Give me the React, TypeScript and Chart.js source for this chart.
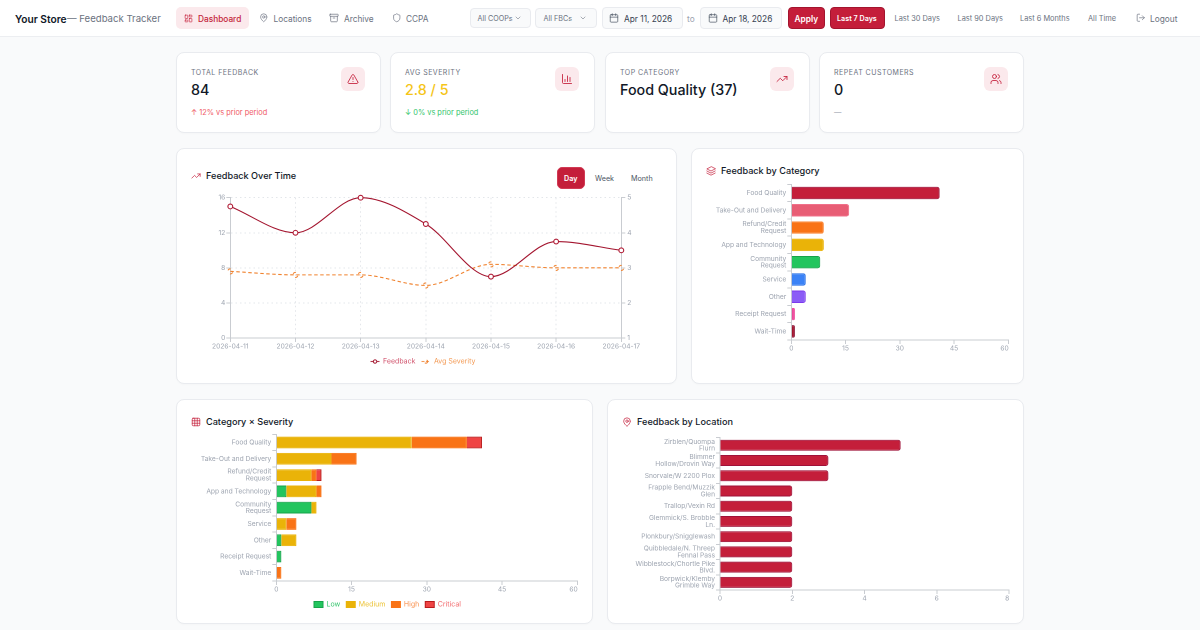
import React, { useEffect, useRef } from "react";
import { Chart, registerables } from "chart.js";

Chart.register(...registerables);

const FONT = "Inter";
const CRIMSON = "#c41e3a";
const TICK = "#9ca3af";
const AXIS = "#c9ccd1";
const TICK_SIZE = 6.67;

const days = ["2026-04-11", "2026-04-12", "2026-04-13", "2026-04-14", "2026-04-15", "2026-04-16", "2026-04-17"];
const feedbackSeries = [15, 12, 16, 13, 7, 11, 10];
const severitySeries = [2.9, 2.8, 2.8, 2.5, 3.1, 3, 3];

const categories = [
  "Food Quality", "Take-Out and Delivery", ["Refund/Credit", "Request"], "App and Technology",
  ["Community", "Request"], "Service", "Other", "Receipt Request", "Wait-Time",
];
const categoryTotals = [41, 16, 9, 9, 8, 4, 4, 1, 1];
const categoryColors = ["#c41e3a", "#e85d75", "#f97316", "#eab308", "#22c55e", "#3b82f6", "#8b5cf6", "#ec4899", "#a3142e"];
const categoryBorders = ["#9f1239", "#f0708a", "#fb8a3c", "#eab308", "#16a34a", "#2f74e6", "#7c3aed", "#ec4899", "#881337"];

const lowSeries = [0, 0, 0, 2, 7, 0, 1, 1, 0];
const mediumSeries = [27, 11, 7, 6, 1, 2, 3, 0, 0];
const highSeries = [11, 5, 1, 1, 0, 2, 0, 0, 1];
const criticalSeries = [3, 0, 1, 0, 0, 0, 0, 0, 0];

const locations = [
  ["Zirblen/Quompa", "Flurn"], ["Blimmer", "Hollow/Drovin Way"], "Snorvale/W 2200 Plox", ["Frapple Bend/Muzzik", "Glen"],
  "Trallop/Vexin Rd", ["Glemmick/S. Brobble", "Ln."], "Plonkbury/Snigglewash", ["Quibbledale/N. Threep", "Fennal Pass"],
  ["Wibblestock/Chortle Pike", "Blvd."], ["Borpwick/Klemby", "Grimble Way"],
];
const locationTotals = [5, 3, 3, 2, 2, 2, 2, 2, 2, 2];

// Marker bitmaps drawn at 3x and reported at 1x, so they stay crisp on the 2x chart canvas.
function markerImage(color: string, dashed: boolean, withLine: boolean) {
  const w = withLine ? 9 : 8;
  const h = 8;
  const k = 3;
  const c = document.createElement("canvas");
  c.width = w * k;
  c.height = h * k;
  const g = c.getContext("2d")!;
  g.scale(k, k);
  g.strokeStyle = color;
  g.lineWidth = 0.9;
  if (withLine) {
    g.beginPath();
    if (dashed) g.setLineDash([3, 1.5]);
    g.moveTo(0, 4);
    g.lineTo(w, 4);
    g.stroke();
    g.setLineDash([]);
  }
  const cx = w / 2;
  if (!dashed) {
    g.fillStyle = "#fff";
    g.beginPath();
    g.arc(cx, 4, 1.7, 0, Math.PI * 2);
    g.fill();
  }
  g.lineWidth = 1;
  if (dashed) g.setLineDash([3.2, 4.6]);
  g.beginPath();
  g.arc(cx, 4, withLine ? 1.7 : 2.5, 0.4, Math.PI * 2 + 0.4);
  g.stroke();
  Object.defineProperty(c, "width", { get: () => w });
  Object.defineProperty(c, "height", { get: () => h });
  return c;
}

function axisCommon(afterFit: (s: any) => void) {
  return { afterFit, border: { color: AXIS, width: 1 } };
}

function tickFont() {
  return { family: FONT, size: TICK_SIZE, lineHeight: 1 };
}

function useChart(build: () => any) {
  const ref = useRef<HTMLCanvasElement>(null);
  useEffect(() => {
    const chart = new Chart(ref.current!, build());
    return () => chart.destroy();
  }, []);
  return ref;
}

function lastShift(max: number) {
  return (v: any) => (Number(v) === max ? `${v}${"  ".repeat(String(v).length)}` : `${v}`);
}

function barOptions(leftPad: number, leftW: number, bottomH: number, top: number, right: number, max: number, step: number, stacked: boolean, legend: any) {
  return {
    indexAxis: "y",
    responsive: false,
    animation: false,
    devicePixelRatio: 2,
    layout: { padding: { top, right, left: leftPad, bottom: 0 } },
    plugins: { legend, tooltip: { enabled: false } },
    scales: {
      x: {
        ...axisCommon((s: any) => { s.height = bottomH; }),
        stacked, min: 0, max,
        grid: { drawOnChartArea: false, tickLength: 4, color: AXIS },
        ticks: { stepSize: step, color: TICK, font: tickFont(), padding: 1, maxRotation: 0, callback: lastShift(max) },
      },
      y: {
        ...axisCommon((s: any) => { s.width = leftW; }),
        stacked,
        grid: { drawOnChartArea: false, tickLength: 4, color: AXIS },
        ticks: { color: TICK, font: tickFont(), padding: 1, autoSkip: false },
      },
    },
  };
}

function LineChart() {
  const ref = useChart(() => ({
    type: "line",
    data: {
      labels: days,
      datasets: [
        {
          label: "Feedback", data: feedbackSeries, yAxisID: "y", borderColor: "#a3142e", borderWidth: 1.1,
          cubicInterpolationMode: "monotone", clip: false,
          pointRadius: 2.4, pointBorderWidth: 1.1, pointBackgroundColor: "#fff", pointBorderColor: "#b01a34",
        },
        {
          label: "Avg Severity", data: severitySeries, yAxisID: "y1", borderColor: "#f0822e", borderWidth: 1.1,
          borderDash: [3.5, 2.5], cubicInterpolationMode: "monotone", pointStyle: markerImage("#f0822e", true, false),
        },
      ],
    },
    options: {
      responsive: false,
      animation: false,
      devicePixelRatio: 2,
      layout: { padding: { top: 7.7, right: 0, left: 0, bottom: 0 } },
      plugins: {
        tooltip: { enabled: false },
        legend: {
          position: "bottom",
          labels: {
            usePointStyle: true, pointStyleWidth: 9, font: { family: FONT, size: 7 }, padding: 6, boxHeight: 7,
            generateLabels: () => [
              { text: "Feedback", fontColor: "#d0506a", pointStyle: markerImage("#a3142e", false, true), datasetIndex: 0, lineWidth: 0, strokeStyle: "transparent", fillStyle: "transparent" },
              { text: "Avg Severity", fontColor: "#f39a55", pointStyle: markerImage("#f0822e", true, true), datasetIndex: 1, lineWidth: 0, strokeStyle: "transparent", fillStyle: "transparent" },
            ],
          },
        },
      },
      scales: {
        x: {
          afterFit: (s: any) => { s.height = 14; },
          border: { color: AXIS, width: 1, dash: [1.5, 3] },
          grid: { color: "#e3e6ea", tickLength: 4, tickColor: AXIS },
          ticks: { color: TICK, font: tickFont(), padding: 1, maxRotation: 0, autoSkip: false },
        },
        y: {
          afterFit: (s: any) => { s.width = 39.3; },
          border: { color: AXIS, width: 1, dash: [1.5, 3] },
          min: 0, max: 16,
          grid: { color: "#e3e6ea", tickLength: 4, tickColor: AXIS },
          ticks: { stepSize: 4, color: TICK, font: tickFont(), padding: 1 },
        },
        y1: {
          ...axisCommon((s: any) => { s.width = 33.7; }),
          position: "right", min: 1, max: 5,
          grid: { drawOnChartArea: false, tickLength: 4, color: AXIS },
          ticks: { stepSize: 1, color: TICK, font: tickFont(), padding: 2 },
        },
      },
    },
  }));
  return <canvas ref={ref} width={464} height={185} style={{ position: "absolute", left: 191, top: 190, width: 464, height: 185 }} />;
}

function CategoryChart() {
  const ref = useChart(() => ({
    type: "bar",
    data: {
      labels: categories,
      datasets: [{ data: categoryTotals, backgroundColor: categoryColors, borderColor: categoryBorders, borderWidth: 1, borderRadius: 2.5 }],
    },
    options: barOptions(0, 91.3, 14, 2.4, 9.7, 60, 15, false, { display: false }),
  }));
  return <canvas ref={ref} width={318} height={174} style={{ position: "absolute", left: 700, top: 180, width: 318, height: 174 }} />;
}

function SeverityChart() {
  const ref = useChart(() => ({
    type: "bar",
    data: {
      labels: categories,
      datasets: [
        { label: "Low", data: lowSeries, backgroundColor: "#22c55e", borderColor: "#16a34a", borderWidth: 1 },
        { label: "Medium", data: mediumSeries, backgroundColor: "#eab308", borderColor: "#eab308", borderWidth: 1 },
        { label: "High", data: highSeries, backgroundColor: "#f97316", borderColor: "#f97316", borderWidth: 1 },
        { label: "Critical", data: criticalSeries, backgroundColor: "#ef4444", borderColor: "#b91c1c", borderWidth: 1 },
      ],
    },
    options: barOptions(7.7, 78.6, 14, 3.3, 21.7, 60, 15, true, {
      position: "bottom",
      labels: {
        boxWidth: 9, boxHeight: 6, padding: 6, font: { family: FONT, size: 7 },
        generateLabels: (chart: any) =>
          (Chart.defaults.plugins.legend.labels.generateLabels as any)(chart).map((it: any, i: number) => ({
            ...it, lineWidth: 1,
            fontColor: ["#34c56c", "#ecc233", "#f9904c", "#f2686a"][i],
          })),
      },
    }),
  }));
  return <canvas ref={ref} width={409} height={188} style={{ position: "absolute", left: 190, top: 430, width: 409, height: 188 }} />;
}

function LocationChart() {
  const ref = useChart(() => ({
    type: "bar",
    data: {
      labels: locations,
      datasets: [{ data: locationTotals, backgroundColor: CRIMSON, borderColor: "#9f1239", borderWidth: 1, borderRadius: 2.5 }],
    },
    options: barOptions(0, 100, 14, 3.3, 15, 8, 2, false, { display: false }),
  }));
  return <canvas ref={ref} width={404} height={174} style={{ position: "absolute", left: 620, top: 430, width: 404, height: 174 }} />;
}

const T = ({ x, y, size = 9, color = "#6b7280", weight = 400, spacing = 0, children }: any) => (
  <span style={{ position: "absolute", left: x, top: y, transform: "translateY(-50%)", fontSize: size, color, fontWeight: weight, letterSpacing: spacing, whiteSpace: "pre", lineHeight: 1 }}>
    {children}
  </span>
);

const Box = ({ x, y, w, h, bg = "#fff", border = "#e9ebef", radius = 8, shadow }: any) => (
  <div style={{ position: "absolute", left: x, top: y, width: w, height: h, background: bg, border: `1px solid ${border}`, borderRadius: radius, boxSizing: "border-box", boxShadow: shadow }} />
);

const ICONS: Record<string, React.ReactNode> = {
  dash: <><rect x="3" y="3" width="7" height="9" rx="1" /><rect x="14" y="3" width="7" height="5" rx="1" /><rect x="14" y="12" width="7" height="9" rx="1" /><rect x="3" y="16" width="7" height="5" rx="1" /></>,
  pin: <><path d="M20 10c0 5-5.5 10.2-7.4 11.8a1 1 0 0 1-1.2 0C9.5 20.2 4 15 4 10a8 8 0 0 1 16 0" /><circle cx="12" cy="10" r="3" /></>,
  archive: <><rect x="2" y="3" width="20" height="5" rx="1" /><path d="M4 8v11a2 2 0 0 0 2 2h12a2 2 0 0 0 2-2V8" /><path d="M10 12h4" /></>,
  shield: <path d="M20 13c0 5-3.5 7.5-7.7 9a1 1 0 0 1-.6 0C7.5 20.5 4 18 4 13V6a1 1 0 0 1 1-1c2 0 4.500-1.200 6.200-2.700a1.200 1.200 0 0 1 1.600 0C14.500 3.800 17 5 19 5a1 1 0 0 1 1 1z" />,
  cal: <><path d="M8 2v4M16 2v4" /><rect x="3" y="4" width="18" height="18" rx="2" /><path d="M3 10h18" /></>,
  chev: <path d="m6 9 6 6 6-6" />,
  logout: <><path d="M9 21H5a2 2 0 0 1-2-2V5a2 2 0 0 1 2-2h4" /><path d="m16 17 5-5-5-5" /><path d="M21 12H9" /></>,
  alert: <><path d="m21.700 18-8-14a2 2 0 0 0-3.480 0l-8 14A2 2 0 0 0 4 21h16a2 2 0 0 0 1.700-3" /><path d="M12 9v4M12 17h.01" /></>,
  bars: <><path d="M3 3v16a2 2 0 0 0 2 2h16" /><path d="M8 17v-4M13 17V6M18 17v-8" /></>,
  trend: <><path d="m22 7-8.500 8.500-5-5L2 17" /><path d="M16 7h6v6" /></>,
  users: <><path d="M16 21v-2a4 4 0 0 0-4-4H6a4 4 0 0 0-4 4v2" /><circle cx="9" cy="7" r="4" /><path d="M22 21v-2a4 4 0 0 0-3-3.900M16 3.100a4 4 0 0 1 0 7.800" /></>,
  layers: <><path d="M12 2 2 7l10 5 10-5z" /><path d="m2 12 10 5 10-5" /><path d="m2 17 10 5 10-5" /></>,
  grid: <><rect x="3" y="3" width="18" height="18" rx="2" /><path d="M3 9h18M3 15h18M9 3v18M15 3v18" /></>,
};

const I = ({ n, x, y, s = 9, color = "#6b7280", sw = 1.7 }: any) => (
  <svg viewBox="0 0 24 24" width={s} height={s} fill="none" stroke={color} strokeWidth={sw} strokeLinecap="round" strokeLinejoin="round" style={{ position: "absolute", left: x, top: y - s / 2 }}>
    {ICONS[n]}
  </svg>
);

const Kpi = ({ x, label, value, valueColor = "#111827", delta, deltaColor, icon }: any) => (
  <>
    <Box x={x} y={52} w={205} h={81} shadow="0 1px 2px rgba(0,0,0,0.02)" />
    <T x={x + 15} y={72} size={7} spacing={0.5} color="#6b7280">{label}</T>
    <T x={x + 15} y={89.500} size={14.300} weight={550} color={valueColor}>{value}</T>
    {delta && <T x={x + 15} y={112.800} size={7.400} color={deltaColor}>{delta}</T>}
    <div style={{ position: "absolute", left: x + 165, top: 67, width: 24, height: 24, borderRadius: 6, background: "#fbe9ec" }} />
    <I n={icon} x={x + 171} y={79} s={12} color={CRIMSON} />
  </>
);

export default function App() {
  return (
    <div style={{ position: "fixed", left: 0, top: 0, width: 1200, height: 630, background: "#f9fafb", overflow: "hidden", fontFamily: `${FONT}, sans-serif` }}>
      <div style={{ position: "absolute", left: 0, top: 0, width: 1200, height: 37, background: "#fff", borderBottom: "1px solid #eceef1", boxSizing: "border-box" }} />
      <T x={15} y={18.500} size={10.200} weight={600} color="#111827">Your Store</T>
      <T x={67} y={18.500} size={9.600} color="#6b7280">— Feedback Tracker</T>

      <div style={{ position: "absolute", left: 176, top: 7, width: 73, height: 22, borderRadius: 5, background: "#fbe9ec" }} />
      <I n="dash" x={183.500} y={18} s={9} color={CRIMSON} />
      <T x={198} y={18.500} size={8.300} weight={500} color={CRIMSON}>Dashboard</T>
      <I n="pin" x={259} y={18} s={9.500} />
      <T x={273.500} y={18.500} size={8.300}>Locations</T>
      <I n="archive" x={329} y={18} s={10} />
      <T x={344} y={18.500} size={8.300}>Archive</T>
      <I n="shield" x={392} y={18} s={9.500} />
      <T x={406} y={18.500} size={8.300}>CCPA</T>

      <Box x={470} y={8} w={61} h={20} radius={4} bg="#f9fafb" />
      <T x={477.500} y={18.500} size={7.200}>All COOPs</T>
      <I n="chev" x={513.500} y={18} s={8} />
      <Box x={535} y={8} w={62} h={20} radius={4} bg="#f9fafb" />
      <T x={543.500} y={18.500} size={7.200}>All FBCs</T>
      <I n="chev" x={579} y={18} s={8} />

      <Box x={601.500} y={7} w={81} h={22} radius={4} bg="#f9fafb" />
      <I n="cal" x={609} y={18} s={10} color="#4b5563" />
      <T x={624} y={18.500} size={8.300} color="#374151">Apr 11, 2026</T>
      <T x={687} y={18.500} size={8.300} color="#9ca3af">to</T>
      <Box x={700} y={7} w={82} h={22} radius={4} bg="#f9fafb" />
      <I n="cal" x={708} y={18} s={10} color="#4b5563" />
      <T x={722.500} y={18.500} size={8.300} color="#374151">Apr 18, 2026</T>

      <Box x={787.500} y={7} w={37.500} h={22} radius={4} bg={CRIMSON} border="#a3142e" />
      <T x={794.500} y={18.500} size={8.300} weight={600} color="#fff">Apply</T>
      <Box x={830} y={7} w={55} h={22} radius={4} bg={CRIMSON} border="#a3142e" />
      <T x={837} y={18.500} size={7.200} weight={600} color="#fff">Last 7 Days</T>
      <T x={894.500} y={18.500} size={7.400}>Last 30 Days</T>
      <T x={957.500} y={18.500} size={7.400}>Last 90 Days</T>
      <T x={1020} y={18.500} size={7.400}>Last 6 Months</T>
      <T x={1088} y={18.500} size={7.400}>All Time</T>
      <I n="logout" x={1136} y={18} s={9.500} />
      <T x={1150} y={18.500} size={8.300}>Logout</T>

      <Kpi x={176} label="TOTAL FEEDBACK" value="84" delta="↑ 12% vs prior period" deltaColor="#ef5b66" icon="alert" />
      <Kpi x={390} label="AVG SEVERITY" value="2.8 / 5" valueColor="#f5c518" delta="↓ 0% vs prior period" deltaColor="#34c56c" icon="bars" />
      <Kpi x={605} label="TOP CATEGORY" value="Food Quality (37)" icon="trend" />
      <Kpi x={819} label="REPEAT CUSTOMERS" value="0" delta="—" deltaColor="#9ca3af" icon="users" />

      <Box x={176} y={148} w={501} h={236} shadow="0 1px 2px rgba(0,0,0,0.02)" />
      <I n="trend" x={191} y={176} s={10} color={CRIMSON} />
      <T x={206} y={176} size={9.150} weight={450} color="#111827">Feedback Over Time</T>
      <Box x={557} y={167} w={28} h={22} radius={5} bg={CRIMSON} border="#d13a54" />
      <T x={564} y={178.500} size={7.200} weight={600} color="#fff">Day</T>
      <T x={595} y={178.500} size={7.200} color="#4b5563">Week</T>
      <T x={631} y={178.500} size={7.200} color="#4b5563">Month</T>
      <LineChart />

      <Box x={691} y={148} w={333} h={236} shadow="0 1px 2px rgba(0,0,0,0.02)" />
      <I n="layers" x={706} y={171} s={10} color={CRIMSON} />
      <T x={721} y={171} size={9.150} weight={450} color="#111827">Feedback by Category</T>
      <CategoryChart />

      <Box x={176} y={399} w={417} h={225} shadow="0 1px 2px rgba(0,0,0,0.02)" />
      <I n="grid" x={191} y={422} s={10} color={CRIMSON} />
      <T x={206} y={422} size={9.150} weight={450} color="#111827">Category × Severity</T>
      <SeverityChart />

      <Box x={607} y={399} w={417} h={225} shadow="0 1px 2px rgba(0,0,0,0.02)" />
      <I n="pin" x={622} y={422} s={10} color={CRIMSON} />
      <T x={637} y={422} size={9.150} weight={450} color="#111827">Feedback by Location</T>
      <LocationChart />
    </div>
  );
}
